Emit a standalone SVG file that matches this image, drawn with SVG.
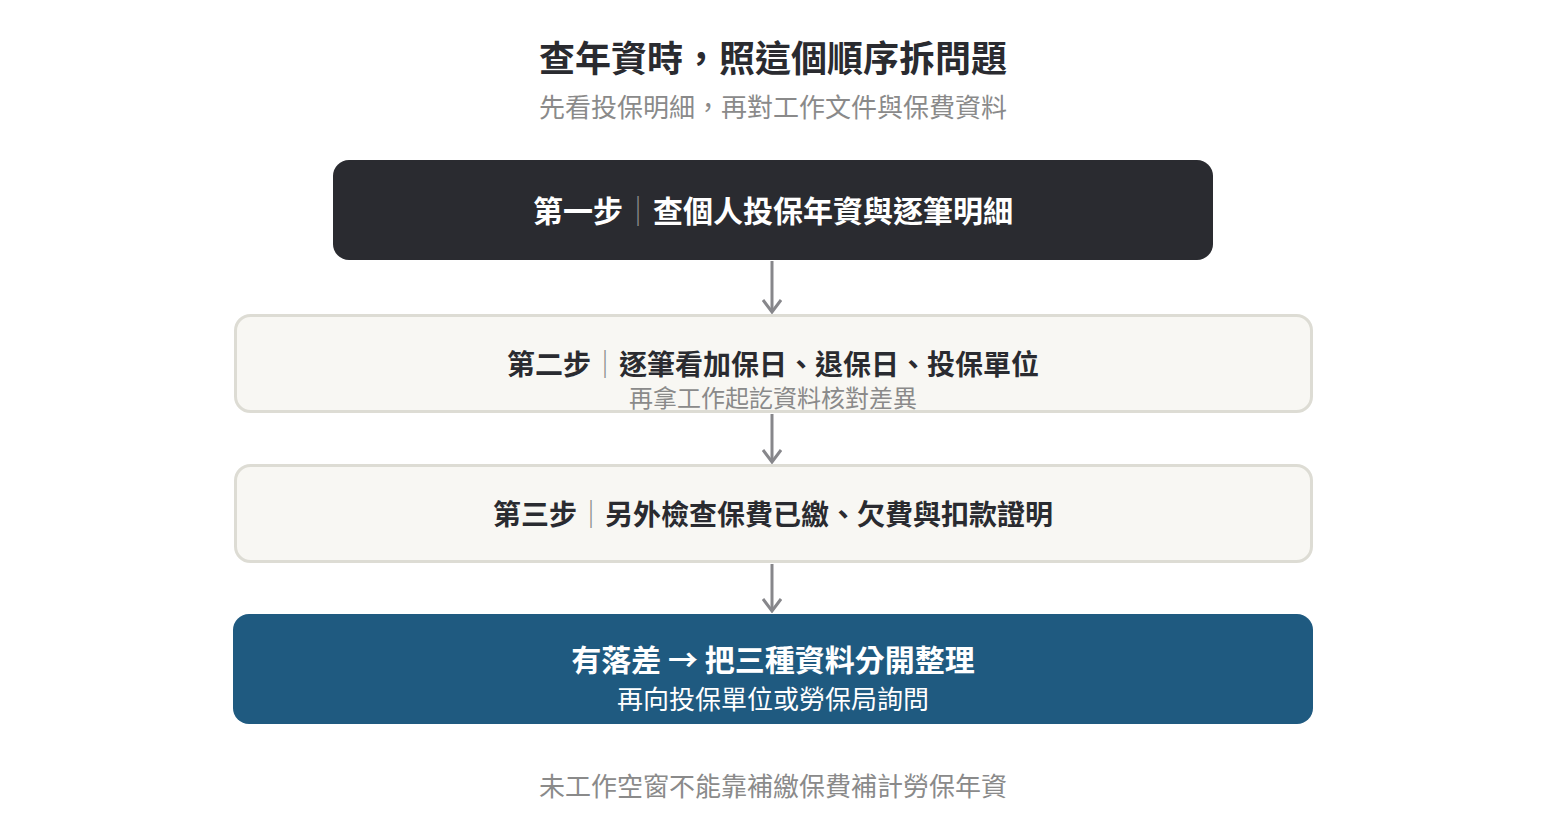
<svg xmlns="http://www.w3.org/2000/svg" width="1546" height="840" viewBox="0 0 1546 840">
<defs>
<style>
text{font-family:"Noto Sans CJK TC","Noto Sans CJK SC",sans-serif;text-anchor:middle}
.title{font-size:36px;font-weight:700;fill:#2a2b30}
.sub{font-size:26px;font-weight:400;fill:#8a8a8a}
.h{font-size:28px;font-weight:700;fill:#2a2b30}
.hw{font-size:30px;font-weight:700;fill:#ffffff}
.sep{font-weight:400;fill:#8a8a8a}
.small{font-size:24px;font-weight:400;fill:#8a8a8a}
.light{fill:#f8f7f3;stroke:#dddcd4;stroke-width:3}
.conn{stroke:#87878b;stroke-width:3;fill:none}
</style>
<marker id="arr" viewBox="0 0 20 20" refX="18" refY="10" markerWidth="20" markerHeight="20" markerUnits="userSpaceOnUse" orient="auto">
<path d="M6,1 L18,10 L6,19" fill="none" stroke="#87878b" stroke-width="3"/>
</marker>
</defs>
<rect width="1546" height="840" fill="#ffffff"/>
<g id="header">
<text class="title" x="773" y="72">查年資時，照這個順序拆問題</text>
<text class="sub" x="773" y="117">先看投保明細，再對工作文件與保費資料</text>
</g>
<g id="connectors">
<path class="conn" d="M772,261 V312" marker-end="url(#arr)"/>
<path class="conn" d="M772,414 V462" marker-end="url(#arr)"/>
<path class="conn" d="M772,564 V611" marker-end="url(#arr)"/>
</g>
<g id="step1">
<rect x="333" y="160" width="880" height="100" rx="16" fill="#2a2b30"/>
<text class="hw" x="773" y="222">第一步<tspan class="sep">｜</tspan>查個人投保年資與逐筆明細</text>
</g>
<g id="step2">
<rect class="light" x="235.5" y="315.5" width="1076" height="96" rx="15"/>
<text class="h" x="773" y="375">第二步<tspan class="sep">｜</tspan>逐筆看加保日、退保日、投保單位</text>
<text class="small" x="773" y="407">再拿工作起訖資料核對差異</text>
</g>
<g id="step3">
<rect class="light" x="235.5" y="465.5" width="1076" height="96" rx="15"/>
<text class="h" x="773" y="525">第三步<tspan class="sep">｜</tspan>另外檢查保費已繳、欠費與扣款證明</text>
</g>
<g id="result">
<rect x="233" y="614" width="1080" height="110" rx="16" fill="#1f5a80"/>
<text class="hw" x="773" y="671">有落差 → 把三種資料分開整理</text>
<text x="773" y="709" style="font-size:26px;font-weight:400;fill:#ffffff">再向投保單位或勞保局詢問</text>
</g>
<g id="footer">
<text class="sub" x="773" y="796">未工作空窗不能靠補繳保費補計勞保年資</text>
</g>
</svg>
